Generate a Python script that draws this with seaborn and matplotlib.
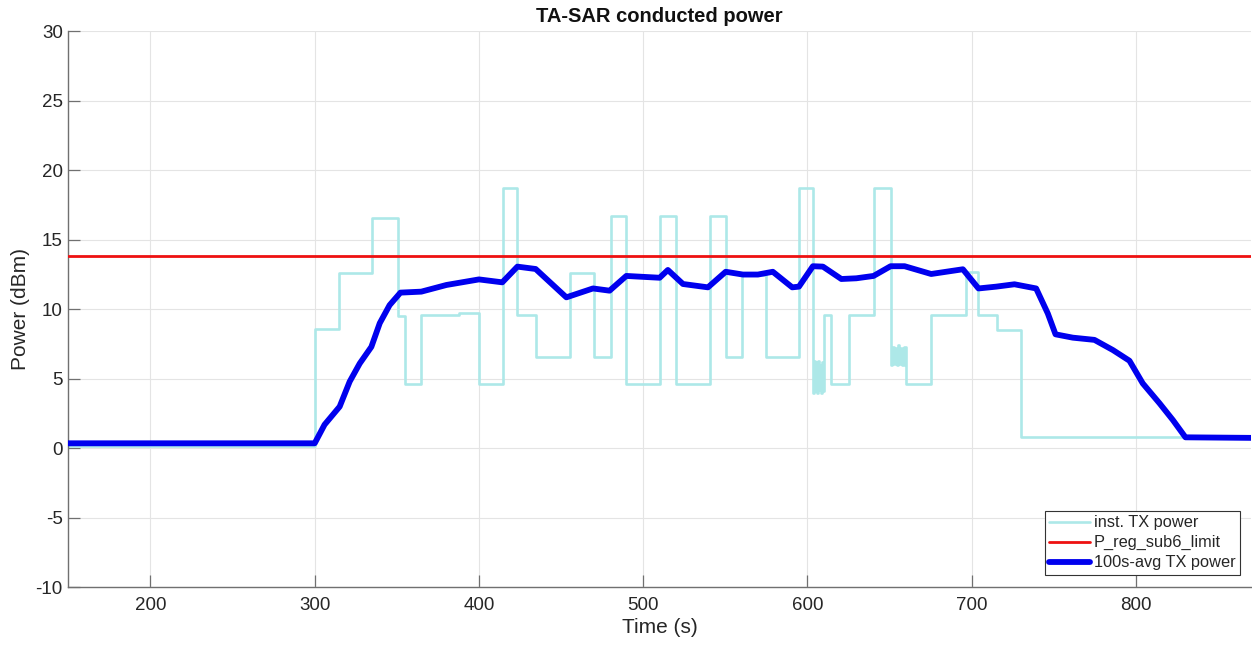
import matplotlib
matplotlib.use("Agg")
import matplotlib.pyplot as plt
import seaborn as sns
import pandas as pd
from matplotlib.lines import Line2D

# ---------------- data ----------------
# instantaneous TX power: step change times (s) and level after each change (dBm)
inst_time = [150, 300, 315, 335, 351, 355, 365, 388, 400, 414.6, 423.4, 435,
             455.2, 470, 480.4, 489.7, 510, 520.2, 540.4, 550.1, 560.3, 575,
             594.8,
             603.3, 604.0, 604.6, 605.2, 605.8, 606.4, 607.0, 607.6, 608.2, 608.8, 609.4,
             609.8, 614.5, 625.2, 640.2,
             650.6, 651.5, 652.4, 653.3, 654.2, 655.1, 656.0, 656.9, 657.8, 658.7,
             659.7, 675.2, 696.7, 704.1, 715.3, 730.1, 870]
inst_power = [0.2, 8.6, 12.6, 16.6, 9.5, 4.6, 9.6, 9.7, 4.6, 18.7, 9.6, 6.6,
              12.6, 6.6, 16.7, 4.6, 16.7, 4.6, 16.7, 6.6, 12.5, 6.6,
              18.7,
              4.0, 6.3, 4.1, 6.2, 4.0, 6.3, 4.2, 6.0, 4.0, 6.2, 4.1,
              9.6, 4.6, 9.6, 18.7,
              6.0, 7.3, 6.1, 7.2, 6.0, 7.4, 6.1, 7.2, 6.0, 7.3,
              4.6, 9.6, 12.7, 9.6, 8.5, 0.8, 0.8]

# 100 s averaged TX power
avg_time = [150, 300, 306, 315.2, 321.3, 327.4, 334.5, 339.6, 345.6, 352.2,
            364.9, 380.2, 400, 414.2, 423.4, 434.5, 453.2, 469.4, 479.5, 489.7,
            510, 515, 524.2, 539.4, 550.2, 560.7, 569.8, 578.9, 590.7, 594.8,
            603.3, 609.4, 620.6, 629.7, 640.2, 650.6, 659.1, 675.3, 694.6, 704.1,
            714.9, 726, 739.2, 746.3, 751, 761.5, 774.7, 785.9, 796, 804.1,
            814.3, 822.4, 830.1, 870]
avg_power = [0.36, 0.36, 1.7, 3.0, 4.8, 6.1, 7.3, 9.0, 10.3, 11.2,
             11.27, 11.75, 12.15, 11.94, 13.07, 12.9, 10.86, 11.5, 11.34, 12.4,
             12.27, 12.83, 11.82, 11.58, 12.7, 12.5, 12.5, 12.7, 11.58, 11.63,
             13.1, 13.07, 12.18, 12.23, 12.4, 13.1, 13.1, 12.54, 12.88, 11.5,
             11.63, 11.8, 11.5, 9.7, 8.2, 7.96, 7.8, 7.07, 6.3, 4.67,
             3.24, 2.04, 0.79, 0.75]

limit_time = [150, 870]
limit_power = [13.8, 13.8]

series_labels = ["inst. TX power", "P_reg_sub6_limit", "100s-avg TX power"]
x_ticks = [200, 300, 400, 500, 600, 700, 800]
y_ticks = [-10, -5, 0, 5, 10, 15, 20, 25, 30]

# ---------------- style ----------------
sns.set_theme(style="white")
plt.rcParams["font.family"] = ["Liberation Sans", "DejaVu Sans"]
plt.rcParams["axes.unicode_minus"] = False

c_inst = "#ade8e8"
c_lim = "#ee1111"
c_avg = "#0000ee"
txt = "#262626"

fig = plt.figure(figsize=(12.52, 6.46), dpi=100)
W, H = 1252, 646
ax = fig.add_axes([68.3 / W, (H - 587.3) / H, (1251 - 68.3) / W, (587.3 - 31.3) / H])

df_inst = pd.DataFrame({"t": inst_time, "p": inst_power})
df_avg = pd.DataFrame({"t": avg_time, "p": avg_power})
df_lim = pd.DataFrame({"t": limit_time, "p": limit_power})

sns.lineplot(data=df_inst, x="t", y="p", ax=ax, color=c_inst, lw=1.9,
             drawstyle="steps-post", estimator=None, sort=False, zorder=2)
sns.lineplot(data=df_lim, x="t", y="p", ax=ax, color=c_lim, lw=2.0,
             estimator=None, sort=False, zorder=3)
sns.lineplot(data=df_avg, x="t", y="p", ax=ax, color=c_avg, lw=4.2,
             estimator=None, sort=False, zorder=4, solid_joinstyle="round")

ax.set_xlim(150, 870)
ax.set_ylim(-10, 30)
ax.set_xticks(x_ticks)
ax.set_yticks(y_ticks)
ax.grid(True, color="#e4e4e4", lw=0.8)
ax.set_axisbelow(True)

for s in ["top", "right"]:
    ax.spines[s].set_visible(False)
for s in ["left", "bottom"]:
    ax.spines[s].set_color("#707070")
    ax.spines[s].set_linewidth(1.0)

ax.tick_params(axis="both", direction="in", length=8.4, width=0.9, color="#707070",
               labelsize=13.5, labelcolor=txt, left=True, bottom=True)
ax.tick_params(axis="x", pad=7)
ax.tick_params(axis="y", pad=4)

ax.set_xlabel("Time (s)", fontsize=15, color=txt, labelpad=3)
ax.set_ylabel("Power (dBm)", fontsize=15, color=txt, labelpad=4)
ax.set_title("TA-SAR conducted power", fontsize=14.5, fontweight="bold",
             color="#111111", pad=7)

handles = [Line2D([], [], color=c_inst, lw=1.9),
           Line2D([], [], color=c_lim, lw=2.0),
           Line2D([], [], color=c_avg, lw=4.2)]
leg = ax.legend(handles, series_labels, loc="lower right",
                bbox_to_anchor=(1239.5 / W, (H - 574.5) / H),
                bbox_transform=fig.transFigure, fontsize=11.8, frameon=True,
                fancybox=False, edgecolor="#333333", framealpha=1,
                handlelength=2.5, handletextpad=0.25, labelspacing=0.3,
                borderpad=0.25, borderaxespad=0.0)
leg.get_frame().set_linewidth(0.8)
for t in leg.get_texts():
    t.set_color(txt)

fig.savefig("out.png", dpi=100)
